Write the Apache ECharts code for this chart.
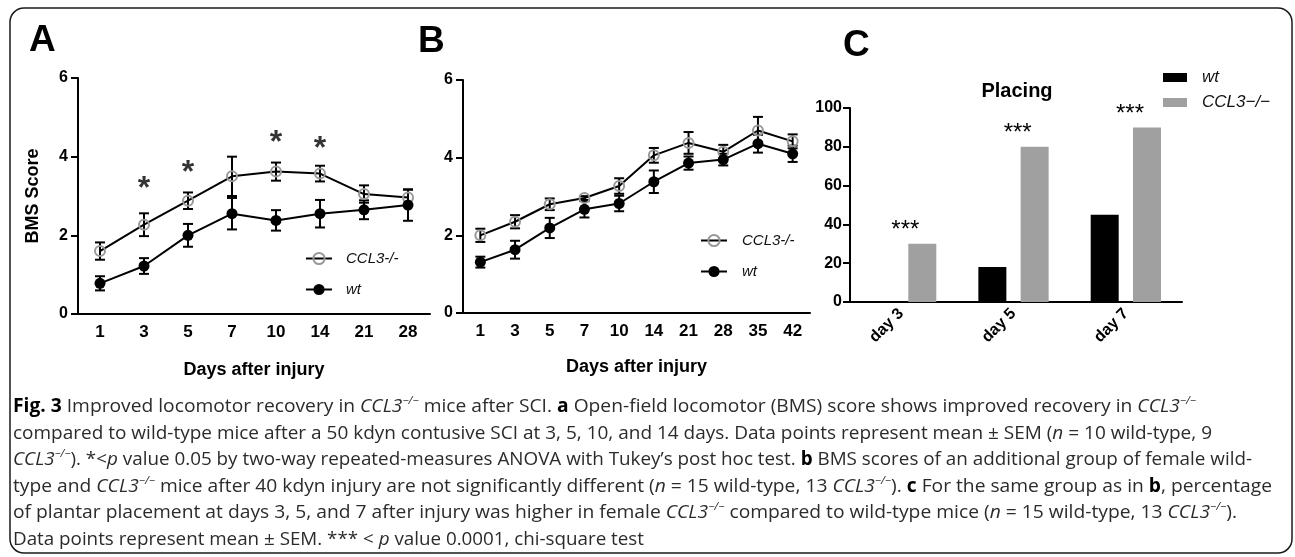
<!DOCTYPE html>
<html>
<head>
<meta charset="utf-8">
<script src="https://cdn.jsdelivr.net/npm/echarts@6/dist/echarts.min.js"></script>
<style>
  html, body { margin: 0; padding: 0; background: #fff; }
  #wrap { position: relative; width: 1295px; height: 557px; overflow: hidden; }
  #chart { position: absolute; left: 0; top: 0; width: 1295px; height: 557px; }
  #caption { position: absolute; left: 13px; top: 392px; font-family: "Open Sans", sans-serif; font-size: 19px; line-height: 26.6px; color: #2b2b2b; z-index: 2; }
  #caption div { white-space: nowrap; width: max-content; transform-origin: 0 50%; }
  #caption b { color: #000; }
  #caption sup { font-size: 11px; line-height: 0; vertical-align: 8px; font-style: italic; }
</style>
</head>
<body>
<div id="wrap">
  <div id="chart"></div>
  <div id="caption">
    <div><b>Fig. 3</b> Improved locomotor recovery in <i>CCL3</i><sup>−/−</sup> mice after SCI. <b>a</b> Open-field locomotor (BMS) score shows improved recovery in <i>CCL3</i><sup>−/−</sup></div>
    <div>compared to wild-type mice after a 50 kdyn contusive SCI at 3, 5, 10, and 14 days. Data points represent mean ± SEM (<i>n</i> = 10 wild-type, 9</div>
    <div><i>CCL3</i><sup>−/−</sup>). *&lt;<i>p</i> value 0.05 by two-way repeated-measures ANOVA with Tukey’s post hoc test. <b>b</b> BMS scores of an additional group of female wild-</div>
    <div>type and <i>CCL3</i><sup>−/−</sup> mice after 40 kdyn injury are not significantly different (<i>n</i> = 15 wild-type, 13 <i>CCL3</i><sup>−/−</sup>). <b>c</b> For the same group as in <b>b</b>, percentage</div>
    <div>of plantar placement at days 3, 5, and 7 after injury was higher in female <i>CCL3</i><sup>−/−</sup> compared to wild-type mice (<i>n</i> = 15 wild-type, 13 <i>CCL3</i><sup>−/−</sup>).</div>
    <div>Data points represent mean ± SEM. *** &lt; <i>p</i> value 0.0001, chi-square test</div>
  </div>
</div>
<script>
  // panel A - 50 kdyn
  var daysA = ['1', '3', '5', '7', '10', '14', '21', '28'];
  var cclA = [1.6, 2.27, 2.88, 3.5, 3.62, 3.57, 3.05, 2.96];
  var cclSemA = [0.22, 0.29, 0.21, 0.5, 0.23, 0.2, 0.22, 0.2];
  var wtA = [0.78, 1.22, 2.0, 2.55, 2.38, 2.55, 2.65, 2.77];
  var wtSemA = [0.18, 0.2, 0.29, 0.4, 0.26, 0.35, 0.24, 0.4];
  var starsA = [[1, 3.36], [2, 3.77], [4, 4.51], [5, 4.38]];

  // panel B - 40 kdyn
  var daysB = ['1', '3', '5', '7', '10', '14', '21', '28', '35', '42'];
  var cclB = [2.0, 2.35, 2.8, 2.96, 3.27, 4.06, 4.38, 4.15, 4.7, 4.42];
  var cclSemB = [0.17, 0.17, 0.15, 0.05, 0.2, 0.19, 0.28, 0.18, 0.35, 0.18];
  var wtB = [1.31, 1.63, 2.19, 2.67, 2.82, 3.38, 3.86, 3.95, 4.36, 4.1];
  var wtSemB = [0.14, 0.23, 0.26, 0.21, 0.2, 0.29, 0.17, 0.15, 0.23, 0.21];

  // panel C - placing
  var daysC = ['day 3', 'day 5', 'day 7'];
  var wtC = [0, 18, 45];
  var cclC = [30, 80, 90];
  var starsC = ['***', '***', '***'];

  var yTicksScore = [0, 6, 2];
  var yTicksPct = [0, 100, 20];

  var font = 'Liberation Sans, Arial, sans-serif';

  // caption lines squeezed to the widths of the original
  var lineEnds = [1196, 1212, 1252, 1272, 1237, 644];
  document.querySelectorAll('#caption div').forEach(function (el, i) {
    var w = el.getBoundingClientRect().width;
    el.style.transform = 'scaleX(' + ((lineEnds[i] - 13) / w) + ')';
  });

  function errData(m, s) {
    return m.map(function (v, i) { return [i, v - s[i], v + s[i]]; });
  }

  function errorBars(params, api) {
    var i = api.value(0);
    var lo = api.coord([i, api.value(1)]);
    var hi = api.coord([i, api.value(2)]);
    var cap = 5;
    var st = { stroke: '#000', lineWidth: 2 };
    return {
      type: 'group',
      children: [
        { type: 'line', shape: { x1: lo[0], y1: lo[1], x2: hi[0], y2: hi[1] }, style: st },
        { type: 'line', shape: { x1: lo[0] - cap, y1: lo[1], x2: lo[0] + cap, y2: lo[1] }, style: st },
        { type: 'line', shape: { x1: hi[0] - cap, y1: hi[1], x2: hi[0] + cap, y2: hi[1] }, style: st }
      ]
    };
  }

  function xAx(grid, data, extra) {
    var ax = {
      type: 'category', gridIndex: grid, data: data,
      axisLine: { lineStyle: { color: '#000', width: 2 } },
      axisTick: { alignWithLabel: true, length: 6, lineStyle: { color: '#000', width: 2 } },
      axisLabel: { color: '#000', fontWeight: 'bold', fontSize: 17, fontFamily: font, margin: 10 },
      splitLine: { show: false }
    };
    return Object.assign(ax, extra || {});
  }

  function yAx(grid, t, extra) {
    var ax = {
      type: 'value', gridIndex: grid, min: t[0], max: t[1], interval: t[2],
      axisLine: { show: true, lineStyle: { color: '#000', width: 2 } },
      axisTick: { show: true, length: 7, lineStyle: { color: '#000', width: 2 } },
      axisLabel: { color: '#000', fontWeight: 'bold', fontSize: 16, fontFamily: font, margin: 10 },
      splitLine: { show: false }
    };
    return Object.assign(ax, extra || {});
  }

  var cclStyle = { color: 'rgba(0,0,0,0)', borderColor: '#999', borderWidth: 2 };

  function lineSeries(name, grid, data, filled) {
    return {
      name: name, type: 'line', xAxisIndex: grid, yAxisIndex: grid, data: data,
      symbol: 'circle', symbolSize: filled ? 11 : 10, z: 3,
      lineStyle: { color: '#000', width: 2 },
      itemStyle: filled ? { color: '#000' } : cclStyle
    };
  }

  function errSeries(grid, m, s) {
    return {
      type: 'custom', xAxisIndex: grid, yAxisIndex: grid, z: 2, silent: true,
      renderItem: errorBars, encode: { x: 0, y: [1, 2] }, data: errData(m, s)
    };
  }

  function legendText(size, gap) {
    return { fontStyle: 'italic', fontSize: size, color: '#111', fontFamily: font, padding: [0, 0, 0, gap] };
  }

  var myChart = echarts.init(document.getElementById('chart'));
  var option = {
    animation: false,
    title: [
      { text: 'A', left: 29, top: 22, padding: 0, textStyle: { fontSize: 37, fontWeight: 'bold', color: '#000', fontFamily: font } },
      { text: 'B', left: 418, top: 23, padding: 0, textStyle: { fontSize: 37, fontWeight: 'bold', color: '#000', fontFamily: font } },
      { text: 'C', left: 843, top: 27, padding: 0, textStyle: { fontSize: 37, fontWeight: 'bold', color: '#000', fontFamily: font } },
      { text: 'Placing', left: 1017, textAlign: 'center', top: 81, padding: 0, textStyle: { fontSize: 20, fontWeight: 'bold', color: '#000', fontFamily: font } }
    ],
    graphic: [{
      type: 'rect', z: -1, silent: true,
      shape: { x: 10, y: 8, width: 1282, height: 545, r: 14 },
      style: { fill: 'none', stroke: '#1a1a1a', lineWidth: 1.5 }
    }],
    legend: [
      { left: 305, top: 251, padding: 0, orient: 'vertical', selectedMode: false, itemWidth: 26, itemHeight: 14, itemGap: 16,
        data: ['CCL3-/-', 'wt'], textStyle: legendText(15, 9) },
      { left: 700, top: 233, padding: 0, orient: 'vertical', selectedMode: false, itemWidth: 26, itemHeight: 14, itemGap: 16,
        data: ['CCL3-/-', 'wt'], textStyle: legendText(15, 10) },
      { left: 1163, top: 69, padding: 0, orient: 'vertical', selectedMode: false, icon: 'rect', itemWidth: 24, itemHeight: 9, itemGap: 8,
        data: [{ name: 'wt', itemStyle: { color: '#000' } }, { name: 'CCL3−/−', itemStyle: { color: '#a0a0a0' } }],
        textStyle: legendText(17, 10) }
    ],
    grid: [
      { left: 78, top: 78, width: 352, height: 236 },
      { left: 463, top: 80, width: 347, height: 233 },
      { left: 845, top: 108, width: 337, height: 194 }
    ],
    xAxis: [
      xAx(0, daysA, { name: 'Days after injury', nameLocation: 'middle', nameGap: 47,
        nameTextStyle: { fontSize: 18, fontWeight: 'bold', color: '#000', fontFamily: font } }),
      xAx(1, daysB, { name: 'Days after injury', nameLocation: 'middle', nameGap: 45,
        nameTextStyle: { fontSize: 18, fontWeight: 'bold', color: '#000', fontFamily: font } }),
      xAx(2, daysC, { axisLabel: { color: '#000', fontWeight: 'bold', fontSize: 16, fontFamily: font, rotate: 45, margin: 9 } })
    ],
    yAxis: [
      yAx(0, yTicksScore, { name: 'BMS Score', nameLocation: 'middle', nameGap: 36,
        nameTextStyle: { fontSize: 18, fontWeight: 'bold', color: '#000', fontFamily: font } }),
      yAx(1, yTicksScore),
      yAx(2, yTicksPct, { offset: -5, axisLabel: { color: '#000', fontWeight: 'bold', fontSize: 16, fontFamily: font, margin: 8 } })
    ],
    series: [
      errSeries(0, cclA, cclSemA),
      errSeries(0, wtA, wtSemA),
      lineSeries('CCL3-/-', 0, cclA, false),
      lineSeries('wt', 0, wtA, true),
      {
        type: 'scatter', xAxisIndex: 0, yAxisIndex: 0, data: starsA, symbolSize: 1, silent: true,
        itemStyle: { color: 'rgba(0,0,0,0)' },
        label: { show: true, position: 'inside', formatter: '*', offset: [0, 7],
          fontSize: 32, fontWeight: 'bold', color: '#000', fontFamily: font }
      },
      errSeries(1, cclB, cclSemB),
      errSeries(1, wtB, wtSemB),
      lineSeries('CCL3-/-', 1, cclB, false),
      lineSeries('wt', 1, wtB, true),
      {
        name: 'wt', type: 'bar', xAxisIndex: 2, yAxisIndex: 2, data: wtC,
        barWidth: 28, barGap: '51%', itemStyle: { color: '#000' }
      },
      {
        name: 'CCL3−/−', type: 'bar', xAxisIndex: 2, yAxisIndex: 2, data: cclC,
        barWidth: 28, barGap: '51%', itemStyle: { color: '#a0a0a0' },
        label: { show: true, position: 'top', distance: 1, offset: [-17, 0],
          formatter: function (p) { return starsC[p.dataIndex]; },
          fontSize: 24, color: '#000', fontFamily: font }
      }
    ]
  };
  myChart.setOption(option);
</script>
</body>
</html>
